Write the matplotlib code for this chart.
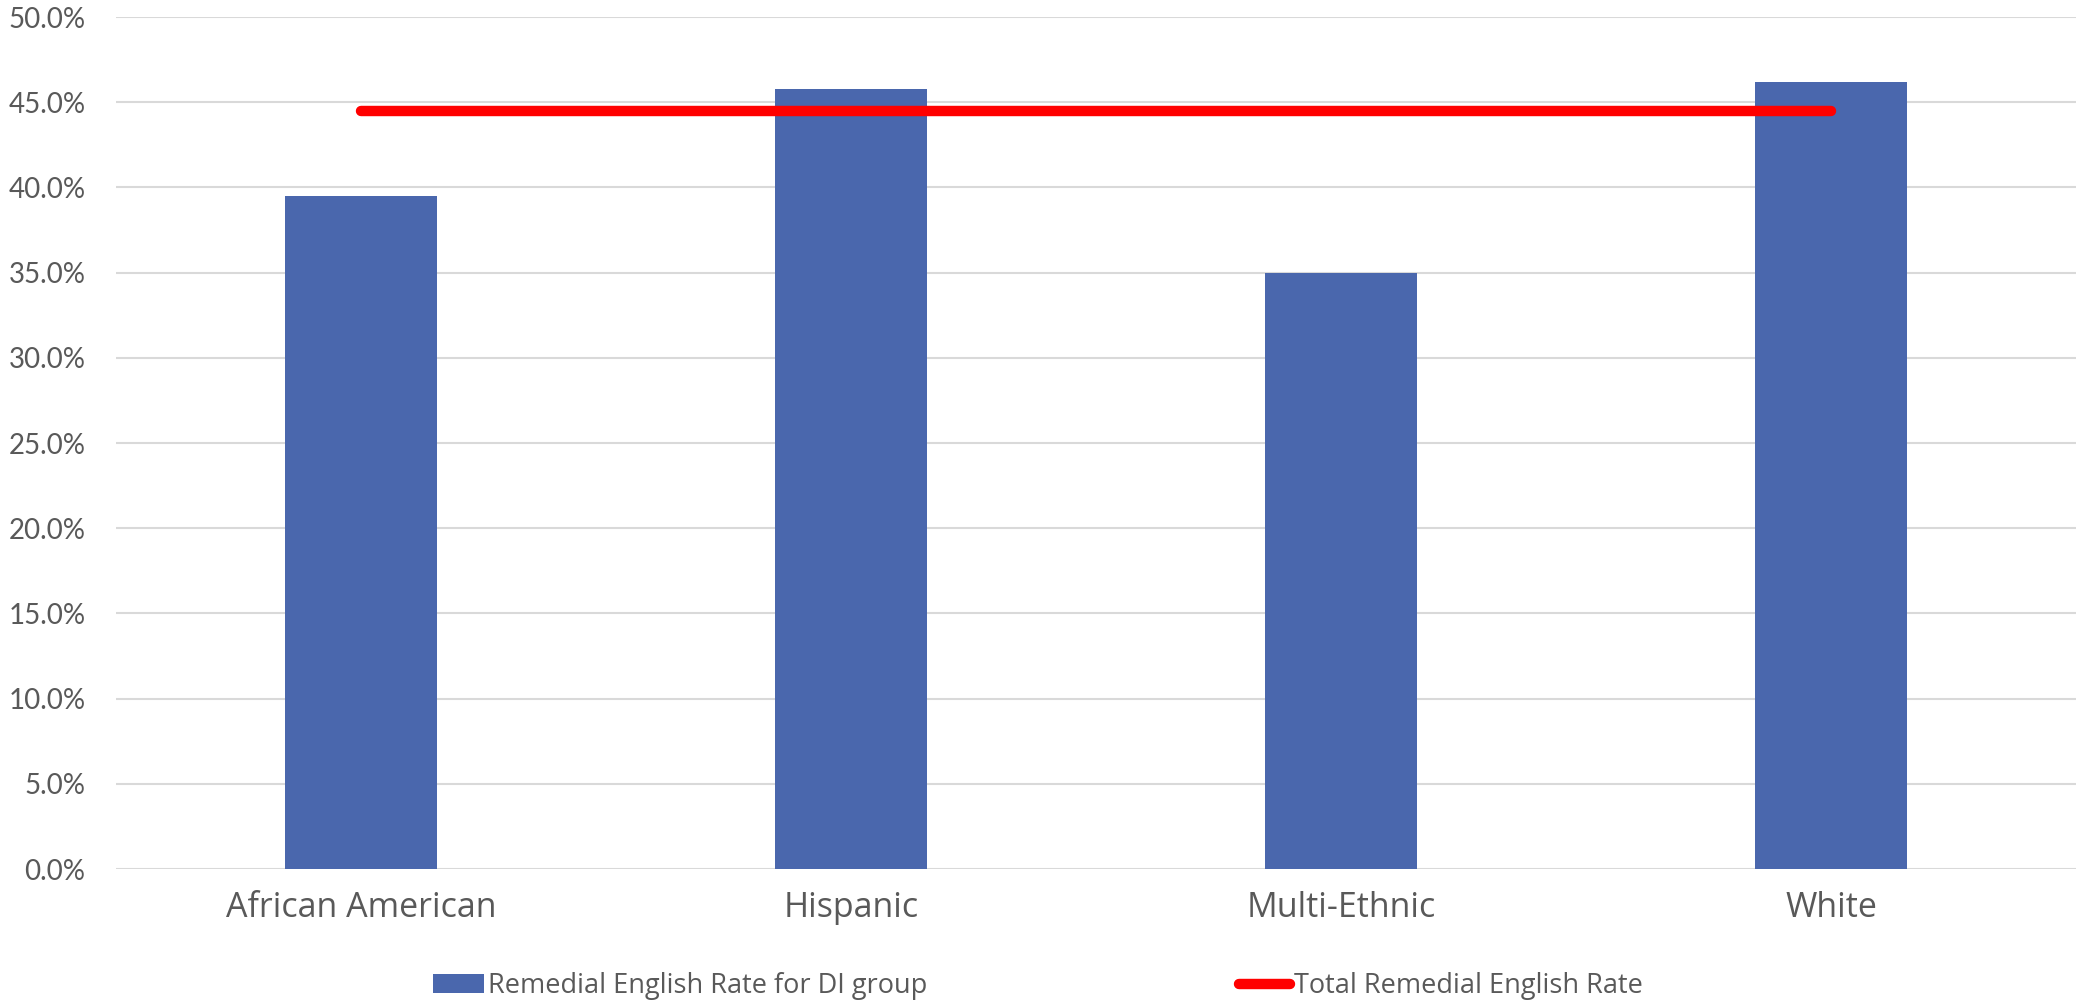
import matplotlib
matplotlib.use('Agg')
import matplotlib.pyplot as plt
from matplotlib.ticker import PercentFormatter, MultipleLocator
from matplotlib.patches import Patch
from matplotlib.lines import Line2D

categories = ['African American', 'Hispanic', 'Multi-Ethnic', 'White']
di_rates = [39.5, 45.8, 35.0, 46.2]
total_rate = 44.5

bar_color = '#4A67AD'
line_color = '#FF0000'
text_color = '#595959'

plt.rcParams['font.family'] = ['Lato', 'DejaVu Sans']

fig = plt.figure(figsize=(20.76, 10), dpi=100)
ax = fig.add_axes([116 / 2076, 0.131, 1 - 116 / 2076, 0.983 - 0.131])

x = list(range(len(categories)))
ax.bar(x, di_rates, width=0.31, color=bar_color, zorder=2)
ax.plot([x[0], x[-1]], [total_rate, total_rate], color=line_color,
        linewidth=7.5, solid_capstyle='round', zorder=3)

ax.set_xlim(-0.5, len(categories) - 0.5)
ax.set_ylim(0, 50)
ax.yaxis.set_major_locator(MultipleLocator(5))
ax.yaxis.set_major_formatter(PercentFormatter(decimals=1))
ax.set_xticks(x)
ax.set_xticklabels(categories, family=['Open Sans', 'DejaVu Sans'])

ax.grid(axis='y', color='#D9D9D9', linewidth=1.5, zorder=0)
ax.set_axisbelow(True)
for s in ax.spines.values():
    s.set_visible(False)

ax.tick_params(axis='y', length=0, pad=22, labelsize=20, labelcolor=text_color)
ax.tick_params(axis='x', length=0, pad=16, labelsize=24.5, labelcolor=text_color)

handles = [Patch(facecolor=bar_color),
           Line2D([0], [0], color=line_color, linewidth=7.5, solid_capstyle='round')]
labels = ['Remedial English Rate for DI group', 'Total Remedial English Rate']
leg = fig.legend(handles, labels, loc='center', bbox_to_anchor=(0.5, 0.014),
                 ncol=2, frameon=False, handlelength=1.9,
                 handletextpad=0.15, columnspacing=11.5,
                 prop={'family': ['Open Sans', 'DejaVu Sans'], 'size': 19.5})
for t in leg.get_texts():
    t.set_color(text_color)

fig.savefig('out.png', dpi=100)
